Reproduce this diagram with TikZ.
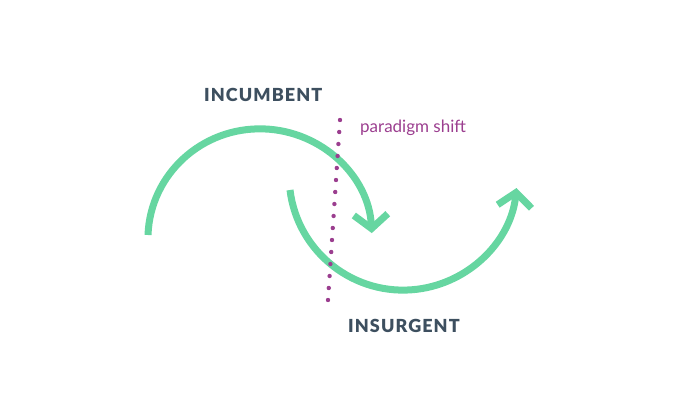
\documentclass[tikz,border=0pt]{standalone}
\usepackage{fontspec}
\setmainfont{Lato}
\newfontfamily\labfont[LetterSpace=6]{Lato Black}
\usetikzlibrary{arrows.meta}
\definecolor{grn}{HTML}{66D6A1}
\definecolor{prp}{HTML}{9B3E8F}
\definecolor{slate}{HTML}{3D4F5F}
\begin{document}
\begin{tikzpicture}[x=1pt,y=-1pt,
  arc/.style={draw=grn,line width=7pt,-{Straight Barb[length=14pt,width=34pt,line width=7pt]}},
  lab/.style={text=slate,font=\labfont\fontsize{18}{20}\selectfont,inner sep=0pt}]
\useasboundingbox (0,0) rectangle (680,407);
\coordinate (s1) at (148,235);
\coordinate (s2) at (290,190);
\draw[arc] (s1) arc[start angle=178,end angle=3,x radius=112,y radius=-110];
\draw[arc] (s2) arc[start angle=187,end angle=354,x radius=114,y radius=-114];
\foreach \i in {0,...,15} {
  \fill[prp] ({340-12*\i/15},{120+12*\i}) circle (2.2);
}
\node[lab,anchor=west] (inc) at (204,95) {INCUMBENT};
\node[lab,anchor=west] (ins) at (348,326) {INSURGENT};
\node[text=prp,font=\fontsize{17}{19}\selectfont,anchor=west,inner sep=0pt] (ps) at (360,128) {paradigm shift};
\end{tikzpicture}
\end{document}
